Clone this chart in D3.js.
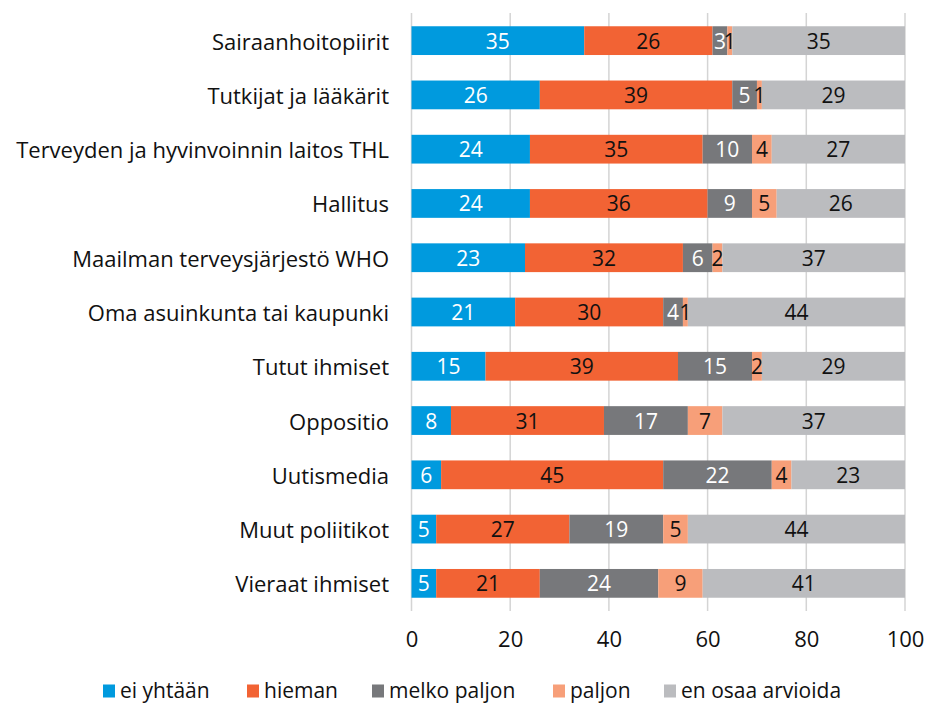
<!DOCTYPE html>
<html><head><meta charset="utf-8">
<script src="https://cdn.jsdelivr.net/npm/d3@7"></script>
<style>body{margin:0;background:#fff;} svg{display:block;font-family:"Open Sans",sans-serif;}</style>
</head><body>
<svg id="c" width="925" height="704"></svg>
<script>
const categories = ["Sairaanhoitopiirit","Tutkijat ja lääkärit","Terveyden ja hyvinvoinnin laitos THL","Hallitus","Maailman terveysjärjestö WHO","Oma asuinkunta tai kaupunki","Tutut ihmiset","Oppositio","Uutismedia","Muut poliitikot","Vieraat ihmiset"];
const seriesNames = ["ei yhtään","hieman","melko paljon","paljon","en osaa arvioida"];
const eiYhtaan = [35,26,24,24,23,21,15,8,6,5,5];
const hieman = [26,39,35,36,32,30,39,31,45,27,21];
const melkoPaljon = [3,5,10,9,6,4,15,17,22,19,24];
const paljon = [1,1,4,5,2,1,2,7,4,5,9];
const enOsaa = [35,29,27,26,37,44,29,37,23,44,41];
const xTicks = [0,20,40,60,80,100];
const colors = ["#009ADE","#F26334","#77787B","#F79F79","#BBBCBF"];
const labelColors = ["#fff","#111","#fff","#111","#111"];

const seriesVals = [eiYhtaan,hieman,melkoPaljon,paljon,enOsaa];
const rows = categories.map((c,i)=>{const o={cat:c}; seriesNames.forEach((s,j)=>o[s]=seriesVals[j][i]); return o;});
const stack = d3.stack().keys(seriesNames)(rows);

const svg = d3.select("#c");
const x = d3.scaleLinear().domain([0,100]).range([411.5,905]);
const y = d3.scaleBand().domain(categories).range([13.5,610.5]).paddingInner(0.47).paddingOuter(0.235);

// grid
svg.append("g").selectAll("line").data(xTicks).join("line")
  .attr("x1",d=>x(d)).attr("x2",d=>x(d)).attr("y1",13).attr("y2",611)
  .attr("stroke","#d4d4d4").attr("stroke-width",1.5);

// bars
const g = svg.append("g");
stack.forEach((layer,j)=>{
  g.selectAll(null).data(layer).join("rect")
    .attr("x",d=>x(d[0])).attr("width",d=>x(d[1])-x(d[0]))
    .attr("y",d=>y(d.data.cat)).attr("height",y.bandwidth())
    .attr("fill",colors[j]);
});
stack.forEach((layer,j)=>{
  g.selectAll(null).data(layer).join("text")
    .attr("x",d=>(x(d[0])+x(d[1]))/2).attr("y",d=>y(d.data.cat)+y.bandwidth()/2)
    .attr("text-anchor","middle").attr("dominant-baseline","central")
    .attr("font-size",21).attr("fill",labelColors[j])
    .text(d=>d[1]-d[0]);
});

// category labels
svg.append("g").selectAll("text").data(categories).join("text")
  .attr("x",389).attr("y",d=>y(d)+y.bandwidth()/2)
  .attr("text-anchor","end").attr("dominant-baseline","central")
  .attr("font-size",22).attr("fill","#111").text(d=>d);

// x axis
const ax = svg.append("g").attr("transform","translate(0,631)")
  .call(d3.axisBottom(x).tickValues(xTicks).tickSize(0).tickPadding(0));
ax.select(".domain").remove();
ax.selectAll("text").attr("font-size",22).attr("fill","#111").attr("font-family","Open Sans, sans-serif").attr("dy","0.71em");

// legend
const legX = [103,247,372,553,664];
const leg = svg.append("g").selectAll("g").data(seriesNames).join("g")
  .attr("transform",(d,i)=>`translate(${legX[i]},690)`);
leg.append("rect").attr("x",0).attr("y",-5.5).attr("width",12).attr("height",13).attr("fill",(d,i)=>colors[i]);
leg.append("text").attr("x",17).attr("y",0).attr("dominant-baseline","central")
  .attr("font-size",21).attr("fill","#111").text(d=>d);
</script>
</body></html>
